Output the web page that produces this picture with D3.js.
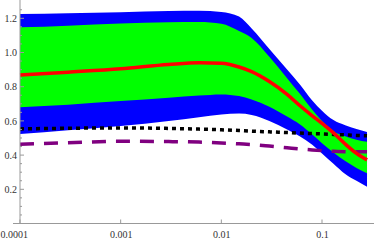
<!DOCTYPE html>
<html>
<head>
<meta charset="utf-8">
<script src="https://cdn.jsdelivr.net/npm/d3@7"></script>
<style>
  body { margin: 0; background: #fff; }
  svg { display: block; }
</style>
</head>
<body>
<div id="chart"></div>
<script>
// sample x positions (log scale)
var xs = [0.0001, 0.0003, 0.001, 0.003, 0.006, 0.01, 0.015, 0.02, 0.03, 0.045, 0.06, 0.08, 0.1, 0.13, 0.17, 0.22, 0.28];

// outer (blue) band
var blueUpper = [1.225, 1.23, 1.236, 1.243, 1.244, 1.237, 1.21, 1.14, 1.02, 0.90, 0.815, 0.72, 0.66, 0.605, 0.575, 0.552, 0.535];
var blueLower = [0.523, 0.545, 0.57, 0.60, 0.622, 0.638, 0.643, 0.635, 0.60, 0.55, 0.51, 0.46, 0.41, 0.35, 0.29, 0.25, 0.215];
// inner (green) band
var greenUpper = [1.147, 1.157, 1.17, 1.177, 1.178, 1.168, 1.125, 1.085, 0.975, 0.85, 0.76, 0.665, 0.60, 0.54, 0.51, 0.49, 0.478];
var greenLower = [0.68, 0.695, 0.716, 0.735, 0.748, 0.755, 0.745, 0.725, 0.683, 0.625, 0.58, 0.52, 0.47, 0.415, 0.365, 0.325, 0.294];
// central line
var redLine = [0.868, 0.885, 0.905, 0.93, 0.94, 0.937, 0.915, 0.888, 0.83, 0.755, 0.69, 0.63, 0.585, 0.53, 0.465, 0.41, 0.372];
// dotted and dashed lines
var blackDotted = [0.553, 0.557, 0.559, 0.556, 0.552, 0.548, 0.544, 0.54, 0.536, 0.532, 0.529, 0.526, 0.524, 0.521, 0.518, 0.515, 0.513];
var purpleDashed = [0.463, 0.472, 0.481, 0.479, 0.476, 0.471, 0.466, 0.462, 0.453, 0.443, 0.436, 0.43, 0.426, 0.422, 0.42, 0.42, 0.42];

var xTicks = [0.0001, 0.001, 0.01, 0.1];
var xTickLabels = ["0.0001", "0.001", "0.01", "0.1"];
var yTicks = [0.2, 0.4, 0.6, 0.8, 1.0, 1.2];
var yTickLabels = ["0.2", "0.4", "0.6", "0.8", "1.0", "1.2"];

var width = 374, height = 241;

var svg = d3.select("#chart")
  .append("svg")
  .attr("width", width)
  .attr("height", height);

// ----------- scales ----------
var x = d3.scaleLog()
  .domain([0.0001, 0.3285])
  .range([20, 374]);
var y = d3.scaleLinear()
  .domain([0, 1.307])
  .range([223.5, 0]);

function band(lo, hi) {
  return d3.area()
    .x(function(d, i) { return x(xs[i]); })
    .y0(function(d, i) { return y(lo[i]); })
    .y1(function(d, i) { return y(hi[i]); })
    .curve(d3.curveMonotoneX)(xs);
}
function line(vals) {
  return d3.line()
    .x(function(d, i) { return x(xs[i]); })
    .y(function(d, i) { return y(vals[i]); })
    .curve(d3.curveMonotoneX)(xs);
}

// ----------- bands ----------
svg.append("path").attr("d", band(blueLower, blueUpper)).attr("fill", "#0000ff");
svg.append("path").attr("d", band(greenLower, greenUpper)).attr("fill", "#00ff00");

// ----------- lines ----------
svg.append("path").attr("d", line(blackDotted))
  .attr("fill", "none").attr("stroke", "#000")
  .attr("stroke-width", 3.5).attr("stroke-dasharray", "4,4");
svg.append("path").attr("d", line(purpleDashed))
  .attr("fill", "none").attr("stroke", "#800080")
  .attr("stroke-width", 3.5).attr("stroke-dasharray", "14,10");
svg.append("path").attr("d", line(redLine))
  .attr("fill", "none").attr("stroke", "#ff0000")
  .attr("stroke-width", 3.5);

// ----------- axes ----------
var axisColor = "#999";
var xAxis = d3.axisBottom(x).tickValues(xTicks).tickSize(0)
  .tickFormat(function(d, i) { return xTickLabels[i]; });
var gx = svg.append("g").attr("transform", "translate(0," + y(0) + ")").call(xAxis);
gx.select(".domain").remove();
gx.selectAll("text")
  .attr("dy", 0).attr("y", 14.5)
  .style("font-family", "'Liberation Serif', serif")
  .style("font-size", "10px").attr("fill", "#333");
gx.selectAll(".tick").filter(function(d) { return d === 0.0001; })
  .select("text").attr("text-anchor", "start").attr("x", -20);
svg.append("line")
  .attr("x1", 13).attr("x2", 374).attr("y1", y(0)).attr("y2", y(0))
  .attr("stroke", axisColor).attr("stroke-width", 1);
svg.selectAll(".xtk").data(xTicks).enter().append("line")
  .attr("x1", function(d) { return x(d); }).attr("x2", function(d) { return x(d); })
  .attr("y1", y(0)).attr("y2", y(0) - 4)
  .attr("stroke", axisColor);

var yAxis = d3.axisLeft(y).tickValues(yTicks).tickSize(0)
  .tickFormat(function(d, i) { return yTickLabels[i]; });
var gy = svg.append("g").attr("transform", "translate(20,0)").call(yAxis);
gy.select(".domain").remove();
gy.selectAll("text")
  .attr("x", -3)
  .style("font-family", "'Liberation Serif', serif")
  .style("font-size", "10px").attr("fill", "#333");
svg.append("line")
  .attr("x1", 20).attr("x2", 20).attr("y1", 0).attr("y2", y(0))
  .attr("stroke", axisColor).attr("stroke-width", 1);
var yMinor = d3.range(0.05, 1.3, 0.05);
svg.selectAll(".ytk").data(yMinor).enter().append("line")
  .attr("x1", 20)
  .attr("x2", function(d) { return Math.abs(d * 5 - Math.round(d * 5)) < 1e-6 ? 24 : 22; })
  .attr("y1", function(d) { return y(d); }).attr("y2", function(d) { return y(d); })
  .attr("stroke", axisColor);
</script>
</body>
</html>
